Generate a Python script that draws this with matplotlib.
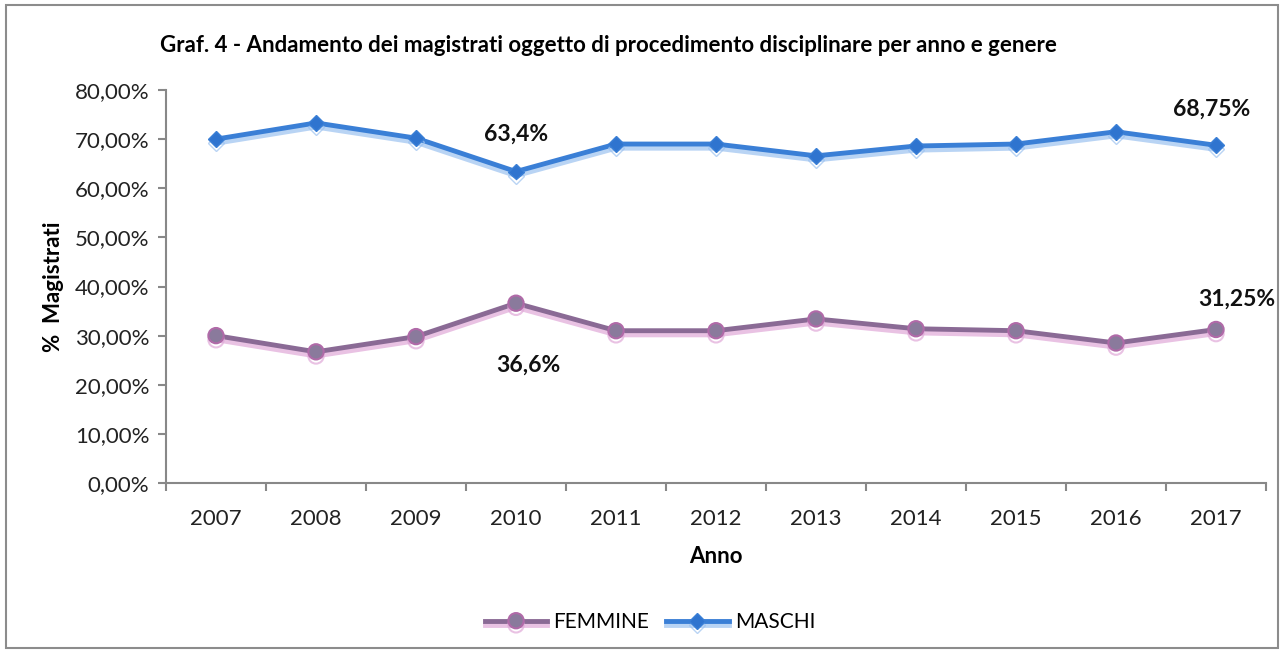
import matplotlib.pyplot as plt
import matplotlib.patheffects as pe
from matplotlib.patches import Rectangle
from matplotlib.ticker import FixedLocator, NullFormatter

plt.rcParams['font.family'] = ['Lato', 'DejaVu Sans']

anni = ['2007', '2008', '2009', '2010', '2011', '2012', '2013', '2014', '2015', '2016', '2017']
maschi = [70.0, 73.3, 70.2, 63.4, 69.0, 69.0, 66.6, 68.6, 69.0, 71.5, 68.75]
femmine = [30.0, 26.7, 29.8, 36.6, 31.0, 31.0, 33.4, 31.4, 31.0, 28.5, 31.25]
y_ticks = [0, 10, 20, 30, 40, 50, 60, 70, 80]

BLUE = '#3a7fd6'
PURPLE = '#8a6a95'

fig = plt.figure(figsize=(12.84, 6.55), dpi=100)
fig.patches.append(Rectangle((6 / 1284, 7 / 655), 1272 / 1284, 643 / 655,
                             transform=fig.transFigure, fill=False,
                             edgecolor='#8c8c8c', linewidth=1.5))

ax = fig.add_axes([166 / 1284, 1 - 483 / 655, 1100 / 1284, 393 / 655])
x = list(range(len(anni)))

shadow_b = [pe.SimpleLineShadow(offset=(0, -3), shadow_color='#9cc2f0', alpha=0.7), pe.Normal()]
shadow_p = [pe.SimpleLineShadow(offset=(0, -3), shadow_color='#e0a8d8', alpha=0.7), pe.Normal()]

ax.plot(x, femmine, color=PURPLE, linewidth=3.5, marker='o', markersize=11,
        markerfacecolor='#8a7a9c', markeredgecolor='#b06aa8', markeredgewidth=1.5,
        label='FEMMINE', path_effects=shadow_p, zorder=3)
ax.plot(x, maschi, color=BLUE, linewidth=3.5, marker='D', markersize=8,
        markerfacecolor='#2f74cf', markeredgecolor=BLUE,
        label='MASCHI', path_effects=shadow_b, zorder=3)

ax.set_xlim(-0.5, len(anni) - 0.5)
ax.set_ylim(0, 80)
ax.set_yticks(y_ticks)
ax.set_yticklabels([f'{v:.2f}%'.replace('.', ',') for v in y_ticks], fontsize=16, color='#222222')
ax.set_xticks(x)
ax.set_xticklabels(anni, fontsize=16, color='#222222')
ax.xaxis.set_minor_locator(FixedLocator([i - 0.5 for i in range(len(anni) + 1)]))
ax.xaxis.set_minor_formatter(NullFormatter())
ax.tick_params(axis='x', which='major', length=0, pad=19)
ax.tick_params(axis='x', which='minor', length=6, width=1.5, color='#888888')
ax.tick_params(axis='y', length=6, width=1.5, color='#888888', pad=6)

for s in ['top', 'right']:
    ax.spines[s].set_visible(False)
for s in ['left', 'bottom']:
    ax.spines[s].set_color('#888888')
    ax.spines[s].set_linewidth(1.5)

ax.set_xlabel('Anno', fontsize=16, fontweight='bold', labelpad=12)
ax.set_ylabel('%  Magistrati', fontsize=16, fontweight='bold', labelpad=8)

lbl = dict(textcoords='offset points', ha='center', va='center',
           fontsize=16.5, fontweight='bold', color='#111111')
ax.annotate('63,4%', (3, maschi[3]), xytext=(0, 27), **lbl)
ax.annotate('36,6%', (3, femmine[3]), xytext=(9, -45), **lbl)
ax.annotate('68,75%', (10, maschi[10]), xytext=(-3, 26), **lbl)
ax.annotate('31,25%', (10, femmine[10]), xytext=(15, 22), **lbl)

fig.text(160 / 1284, 1 - 45 / 655, 'Graf. 4 - Andamento dei magistrati oggetto di procedimento disciplinare per anno e genere',
         fontsize=16, fontweight='bold', va='center')

fig.legend(loc='center', bbox_to_anchor=(650 / 1284, 1 - 622 / 655), ncol=2, frameon=False,
           fontsize=15, handlelength=3, columnspacing=0.8, handletextpad=0.3)

fig.savefig('out.png', dpi=100)
